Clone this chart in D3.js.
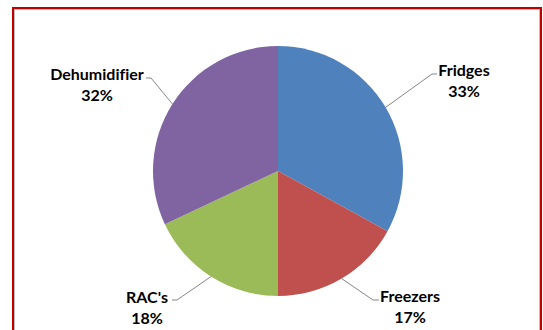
<!DOCTYPE html>
<html><head><meta charset="utf-8">
<script src="https://cdn.jsdelivr.net/npm/d3@7"></script>
<style>html,body{margin:0;padding:0;background:#fff;overflow:hidden}</style>
</head><body>
<svg id="c" width="543" height="330"></svg>
<script>
const categories = ["Fridges", "Freezers", "RAC's", "Dehumidifier"];
const values = [33, 17, 18, 32];
const colors = ["#4F81BD", "#C0504D", "#9BBB59", "#8064A2"];
const labelPos = [[464, 76], [410, 302], [147, 303], [97, 80]];
const elbow = [[432, 74], [373, 300], [177, 300], [151, 78]];
const elbowEnd = [[437, 74], [379, 300], [172, 300], [146, 78]];

const svg = d3.select("#c");
svg.append("rect").attr("x", 0).attr("y", 0).attr("width", 543).attr("height", 330).attr("fill", "#fff");
// frame
svg.append("rect").attr("x", 14.5).attr("y", 9.5).attr("width", 525).attr("height", 340)
  .attr("fill", "none").attr("stroke", "#BFBFBF").attr("stroke-width", 1);
svg.append("rect").attr("x", 13).attr("y", 8).attr("width", 528).attr("height", 340)
  .attr("fill", "none").attr("stroke", "#C00000").attr("stroke-width", 2);

const cx = 278, cy = 171, r = 125;
const pie = d3.pie().sort(null).value(d => d)(values);
const arc = d3.arc().innerRadius(0).outerRadius(r);
const g = svg.append("g").attr("transform", `translate(${cx},${cy})`);
g.selectAll("path").data(pie).join("path").attr("d", arc).attr("fill", (d, i) => colors[i]);

// leader lines
pie.forEach((d, i) => {
  const a = (d.startAngle + d.endAngle) / 2;
  const px = cx + r * Math.sin(a), py = cy - r * Math.cos(a);
  svg.append("polyline")
    .attr("points", `${px},${py} ${elbow[i][0]},${elbow[i][1]} ${elbowEnd[i][0]},${elbowEnd[i][1]}`)
    .attr("fill", "none").attr("stroke", "#868686").attr("stroke-width", 1);
  const t = svg.append("text").attr("x", labelPos[i][0]).attr("y", labelPos[i][1])
    .attr("text-anchor", "middle").attr("font-family", "Lato, 'Open Sans', sans-serif")
    .attr("font-weight", "bold").attr("font-size", 16).attr("fill", "#000")
    .style("font-variant-ligatures", "none");
  t.append("tspan").attr("x", labelPos[i][0]).text(categories[i]);
  t.append("tspan").attr("x", labelPos[i][0]).attr("dy", 21).text(values[i] + "%");
});
</script>
</body></html>
